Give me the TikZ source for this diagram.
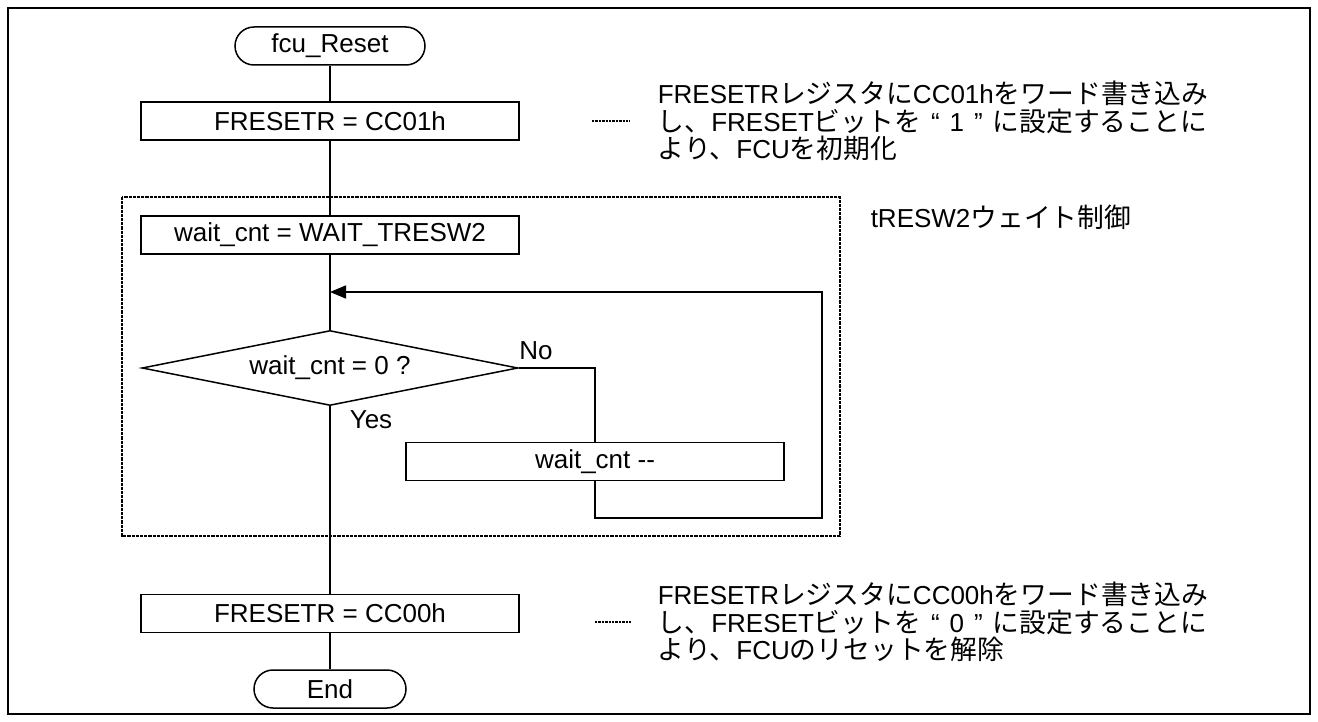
\documentclass[tikz,border=0pt]{standalone}
\usepackage{fontspec}
\setmainfont{Liberation Sans}
\newfontfamily\jpfont[Scale=1.03]{Noto Sans CJK JP}
\newcommand{\jtext}[1]{{\jpfont #1}}
\newcommand{\qsp}{\hspace{5pt}}
\usetikzlibrary{shapes.geometric,arrows.meta}

\begin{document}
\begin{tikzpicture}[x=0.5pt, y=-0.5pt, >={Triangle[length=8pt,width=6.5pt]},
    line width=0.75pt,
    every node/.style={font=\fontsize{13}{13.75}\selectfont},
    proc/.style={draw, minimum width=189pt, minimum height=19pt, inner sep=0pt},
    term/.style={draw, rounded corners=9.5pt, minimum height=19pt, inner sep=0pt},
    cond/.style={draw, diamond, aspect=5, minimum width=188pt, minimum height=37.5pt, inner sep=0pt},
    note/.style={align=left, anchor=west, inner sep=0pt},
    frame/.style={line width=1.3pt, dash pattern=on 1.6pt off 0.5pt},
    dots/.style={line width=0.8pt, dash pattern=on 1.2pt off 0.5pt}]
    \useasboundingbox (0,0) rectangle (1318,722);

    % 外枠
    \draw[line width=1.3pt] (8,8) rectangle (1310,714);

    % -------------------------------------------------------------
    % フローの各ステップ
    % -------------------------------------------------------------
    \node[term, minimum width=95pt] (start) at (330,46) {fcu\_Reset};
    \node[proc] (reset1) at (330,121) {FRESETR = CC01h};
    \node[proc] (init) at (330,235) {wait\_cnt = WAIT\_TRESW2};
    \coordinate (merge) at (330,292);
    \node[cond] (check) at (330,368) {wait\_cnt = 0 ?};
    \node[proc] (dec) at (595,461.5) {wait\_cnt -{}-};
    \node[proc] (reset0) at (330,613.5) {FRESETR = CC00h};
    \node[term, minimum width=76pt] (stop) at (330,689) {End};

    % 分岐ラベル
    \node (no) at (536,351) {No};
    \node (yes) at (371,420) {Yes};

    % ウェイト制御の範囲 (点線枠)
    \draw[frame] (122,197) rectangle (840,536);
    \node[note] (waitnote) at (870,217) {tRESW2\jtext{ウェイト制御}};

    % -------------------------------------------------------------
    % 接続線
    % -------------------------------------------------------------
    \draw (start) -- (reset1);
    \draw (reset1) -- (init);
    \draw (init) -- (check);
    \draw (check.east) -| (dec.north);
    \coordinate (loopbot) at (822,518);
    \draw[->] (dec.south) |- (loopbot) |- (merge);
    \draw (check.south) -- (reset0.north);
    \draw (reset0) -- (stop);

    % 説明文
    \node[note] (note1) at (657,121) {FRESETR\jtext{レジスタに}CC01h\jtext{をワード書き込み}\\
        \jtext{し、}FRESET\jtext{ビットを}\qsp“\qsp1\qsp”\qsp\jtext{に設定することに}\\
        \jtext{より、}FCU\jtext{を初期化}};
    \node[note] (note0) at (657,622) {FRESETR\jtext{レジスタに}CC00h\jtext{をワード書き込み}\\
        \jtext{し、}FRESET\jtext{ビットを}\qsp“\qsp0\qsp”\qsp\jtext{に設定することに}\\
        \jtext{より、}FCU\jtext{のリセットを解除}};

    % 説明文への点線
    \coordinate (d1a) at (592,121);
    \coordinate (d1b) at (630,121);
    \draw[dots] (d1a) -- (d1b);
    \coordinate (d0a) at (595,622);
    \coordinate (d0b) at (632,622);
    \draw[dots] (d0a) -- (d0b);
\end{tikzpicture}
\end{document}
